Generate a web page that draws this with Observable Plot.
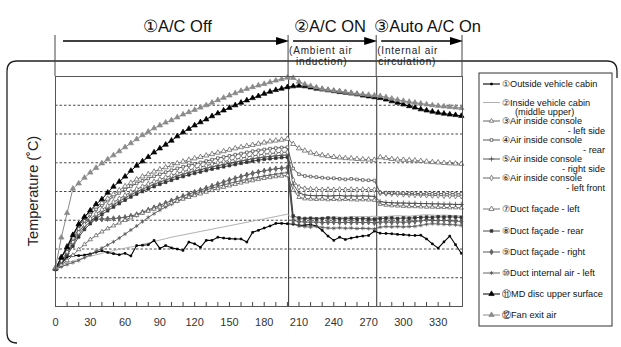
<!DOCTYPE html>
<html><head><meta charset="utf-8">
<script src="https://cdn.jsdelivr.net/npm/d3@7"></script>
<script src="https://cdn.jsdelivr.net/npm/@observablehq/plot@0.6"></script>
<style>
html,body{margin:0;padding:0;background:#fff;}
#chart{position:relative;width:621px;height:347px;overflow:hidden;}
</style></head><body><div id="chart"></div>
<script>
const minutes = [0,5,10,15,20,25,30,35,40,45,50,55,60,65,70,75,80,85,90,95,100,105,110,115,120,125,130,135,140,145,150,155,160,165,170,175,180,185,190,195,200,205,210,215,220,225,230,235,240,245,250,255,260,265,270,275,280,285,290,295,300,305,310,315,320,325,330,335,340,345,350];

const outsideCabin = [23.7,25.0,27.2,27.8,27.7,27.9,28.3,28.9,29.4,28.8, 28.4,28.0,28.5,27.6,31.2,31.3,31.5,33.0,30.2,31.2, 30.4,30.0,29.5,32.4,31.8,30.6,33.0,33.0,34.1,33.8, 33.6,33.5,33.5,32.4,35.8,36.5,37.3,38.0,38.9,38.9, 38.8,38.6,38.2,38.3,38.5,38.0,36.5,34.5,33.0,34.1, 33.3,33.8,34.2,34.5,34.7,36.2,35.5,35.4,35.3,35.1, 35.0,34.8,34.7,34.8,33.5,31.8,30.3,32.5,34.5,31.5, 28.5];
const insideCabin = [23.0,24.2,25.2,25.8,26.4,27.0,27.5,28.0,28.5,29.0, 29.4,29.9,30.3,30.7,31.1,31.6,32.1,32.6,33.1,33.6, 34.1,34.5,34.9,35.3,35.7,36.1,36.5,36.9,37.3,37.7, 38.1,38.5,38.9,39.3,39.7,40.1,40.5,40.9,41.3,41.7, 42.1,40.5,40.2,40.6,41.0,40.9,40.8,41.0,41.2,41.1, 41.0,41.2,41.3,41.2,41.3,41.4,41.2,41.3,41.5,41.6, 41.5,41.4,41.6,41.8,41.9,41.8,41.7,41.8,41.7,41.6, 41.5];
const consoleLeft = [23.2,24.5,26.0,27.8,29.8,31.6,33.3,34.7,36.0,37.1, 38.1,39.1,40.0,40.9,41.7,42.5,43.2,43.9,44.6,45.3, 46.0,46.7,47.4,48.0,48.6,49.2,49.8,50.4,51.0,51.5, 52.0,52.5,53.0,53.4,53.8,54.2,54.6,54.9,55.2,55.4, 55.6,50.5,48.0,47.5,47.4,47.3,47.4,47.2,47.3,47.2, 47.3,47.2,47.1,47.2,47.1,47.0,45.6,45.3,45.1,45.0, 44.9,44.8,44.8,44.7,44.6,44.6,44.5,44.5,44.4,44.4, 44.3];
const consoleRear = [23.0,27.0,30.0,33.5,37.0,39.8,42.0,43.8,45.3,46.8, 48.2,49.5,50.7,51.8,52.8,53.7,54.5,55.3,56.0,56.7, 57.4,58.0,58.6,59.1,59.6,60.1,60.6,61.1,61.6,62.0, 62.4,62.8,63.2,63.6,64.0,64.3,64.6,64.9,65.1,65.3, 65.4,58.0,56.0,55.4,55.2,55.0,54.8,54.6,54.6,54.4, 54.2,54.4,54.2,54.0,53.9,53.8,49.6,49.5,49.4,49.5, 49.4,49.3,49.4,49.2,49.3,49.2,49.3,49.2,49.3,49.2, 49.2];
const consoleRight = [23.0,25.5,28.4,31.8,35.0,37.6,39.6,41.3,42.8,44.1, 45.4,46.6,47.8,48.9,49.9,50.8,51.7,52.5,53.3,54.0, 54.7,55.4,56.0,56.6,57.1,57.6,58.1,58.6,59.0,59.4, 59.8,60.2,60.6,61.0,61.4,61.7,62.0,62.2,62.4,62.6, 62.7,52.5,49.5,48.8,48.6,48.5,48.6,48.4,48.5,48.6, 48.4,48.5,48.4,48.5,48.4,48.3,46.5,46.2,46.1,46.0, 46.0,45.9,45.9,45.8,45.8,45.7,45.7,45.6,45.6,45.5, 45.5];
const consoleFront = [23.0,26.0,29.0,32.5,35.8,38.5,40.5,42.2,43.7,45.0, 46.3,47.5,48.7,49.8,50.8,51.7,52.6,53.4,54.2,54.9, 55.6,56.3,56.9,57.5,58.0,58.5,59.0,59.5,60.0,60.4, 60.8,61.2,61.6,62.0,62.4,62.7,63.0,63.2,63.4,63.6, 63.7,54.0,51.5,51.0,50.8,50.7,50.6,50.7,50.6,50.7, 50.6,50.7,50.6,50.7,50.6,50.6,49.5,49.3,49.2,49.1, 49.0,48.9,48.8,48.8,48.7,48.6,48.6,48.5,48.5,48.4, 48.4];
const ductLeft = [23.2,27.2,30.6,34.0,38.5,41.0,43.0,44.8,46.0,47.5, 49.0,50.4,51.8,53.0,54.2,55.2,56.0,56.9,57.7,58.4, 59.1,59.8,60.4,61.0,61.5,62.0,62.5,63.0,63.5,64.0, 64.5,65.0,65.4,65.8,66.2,66.6,67.0,67.4,67.7,68.0, 68.3,66.5,65.0,64.2,63.5,63.0,62.6,62.3,62.0,61.8, 61.6,61.5,61.3,61.2,61.1,61.0,61.9,61.6,61.3,61.1, 61.0,60.9,60.8,60.6,60.4,60.2,60.1,59.9,59.8,59.7, 59.6];
const ductRear = [23.0,25.0,27.8,31.0,34.2,36.8,38.8,40.5,42.0,43.3, 44.6,45.8,47.0,48.1,49.1,50.0,50.9,51.7,52.5,53.2, 53.9,54.6,55.2,55.8,56.3,56.8,57.3,57.8,58.2,58.6, 59.0,59.4,59.8,60.2,60.6,60.9,61.2,61.4,61.6,61.8, 61.9,41.5,40.8,40.6,40.7,40.5,40.6,40.8,40.7,40.5, 40.6,40.7,40.5,40.6,40.5,40.4,40.6,40.7,40.8,40.6, 40.8,40.7,40.9,41.0,41.1,41.0,41.2,41.1,41.2,41.1, 41.0];
const ductRight = [23.2,27.0,31.0,35.0,38.5,40.0,40.3,40.4,40.4,40.5, 40.6,40.8,41.0,41.5,42.0,42.8,43.6,44.4,45.2,46.0, 46.8,47.6,48.4,49.1,49.8,50.5,51.2,51.9,52.6,53.3, 54.0,54.6,55.2,55.8,56.3,56.8,57.2,57.6,57.9,58.1, 58.3,40.0,39.5,39.4,39.3,39.4,39.2,39.3,39.3,39.2, 39.3,39.2,39.3,39.2,39.3,39.1,39.3,39.4,39.3,39.4, 39.3,39.4,39.6,39.8,40.2,40.0,39.9,40.0,39.8,39.7, 39.6];
const ductInternal = [23.0,23.8,24.6,25.3,26.0,27.0,28.0,29.2,30.3,31.4, 32.5,33.8,35.2,36.6,38.0,39.5,41.0,42.3,43.5,44.6, 45.6,46.6,47.5,48.3,49.1,49.8,50.5,51.2,51.7,52.3, 52.8,53.3,53.8,54.2,54.6,55.0,55.4,55.7,56.0,56.3, 56.6,39.0,38.0,37.8,37.6,37.9,37.5,37.3,37.2,37.4, 37.2,37.3,37.1,37.2,37.1,37.0,37.6,37.8,37.7,37.8, 37.7,37.8,37.9,38.2,38.6,38.8,38.7,38.6,38.5,38.4, 38.2];
const mdDisc = [23.2,27.0,30.6,34.8,38.6,41.2,43.4,45.6,47.3,49.6, 51.7,53.4,55.2,57.2,59.0,60.5,62.0,63.6,65.0,66.3, 67.7,69.2,70.6,71.8,73.0,74.1,75.1,76.2,77.2,78.2, 79.1,80.0,80.9,81.7,82.5,83.2,84.0,84.7,85.3,85.8, 86.3,86.6,86.8,86.6,86.2,85.8,85.5,85.2,84.9,84.6, 84.4,84.1,83.8,83.4,83.1,82.8,82.5,82.0,81.4,80.9, 80.3,79.7,79.2,78.6,78.2,77.8,77.4,77.1,76.8,76.6, 76.3];
const fanExit = [23.5,34.0,42.5,51.0,52.8,54.8,56.6,58.2,59.8,61.2, 62.6,64.0,65.4,66.8,68.2,69.6,70.8,72.0,73.0,74.0, 74.8,75.8,76.8,77.6,78.4,79.2,80.0,80.9,81.8,82.6, 83.4,84.2,85.0,85.7,86.3,86.9,87.4,88.0,88.6,89.1, 89.6,89.5,88.2,87.3,86.7,86.2,85.7,85.4,85.1,84.9, 84.6,84.3,84.0,83.8,83.6,83.4,83.2,82.8,82.3,81.9, 81.5,81.2,80.9,80.6,80.3,80.0,79.8,79.6,79.4,79.2, 79.0];

const xTickLabels = [0,30,60,90,120,150,180,210,240,270,300,330];
const minorTicks = [10,20,30,40,50,60,70,80,90,100,110,120,130,140,150,160,170,180,190,200,210,220,230,240,250,260,270,280,290,300,310,320,330,340];
const gridLevels = [20,30,40,50,60,70,80];
const phaseBounds = [0,201,277,351];
const phaseTitles = ["①A/C Off","②A/C ON","③Auto A/C On"];
const phaseNotes = [[], ["(Ambient air","induction)"], ["(Internal air","circulation)"]];
const legendMain = ["①Outside vehicle cabin","②Inside vehicle cabin","③Air inside console","④Air inside console","⑤Air inside console","⑥Air inside console","⑦Duct façade - left","⑧Duct façade - rear","⑨Duct façade - right","⑩Duct internal air - left","⑪MD disc upper surface","⑫Fan exit air"];
const legendSub = ["","(middle upper)","- left side","- rear","- right side","- left front","","","","","",""];
const yTitle = "Temperature (˚C)";

// styles
const seriesValues = [outsideCabin, insideCabin, consoleLeft, consoleRear, consoleRight, consoleFront, ductLeft, ductRear, ductRight, ductInternal, mdDisc, fanExit];
const styles = [
  {stroke:"#000", sw:1.1, symbol:"square", r:1.0, fill:"#000", ds:"#000"},
  {stroke:"#b0b0b0", sw:1, symbol:null},
  {stroke:"#555", sw:0.9, symbol:"triangle", r:1.6, fill:"#fff", ds:"#555"},
  {stroke:"#444", sw:0.9, symbol:"square", r:1.5, fill:"#fff", ds:"#444"},
  {stroke:"#444", sw:0.9, symbol:"plus", r:1.8, fill:"none", ds:"#444"},
  {stroke:"#555", sw:0.9, symbol:"diamond", r:1.7, fill:"#fff", ds:"#555"},
  {stroke:"#666", sw:0.9, symbol:"triangle", r:1.9, fill:"#fff", ds:"#555"},
  {stroke:"#333", sw:0.9, symbol:"square", r:1.5, fill:"#333", ds:"#333"},
  {stroke:"#444", sw:0.9, symbol:"diamond", r:1.7, fill:"#666", ds:"#555"},
  {stroke:"#555", sw:0.9, symbol:"asterisk", r:1.9, fill:"none", ds:"#555"},
  {stroke:"#000", sw:1.0, symbol:"triangle", r:2.0, fill:"#000", ds:"#000"},
  {stroke:"#8a8a8a", sw:1.0, symbol:"triangle", r:2.0, fill:"#8a8a8a", ds:"#8a8a8a"}
];
const drawOrder = [1,0,9,8,7,2,4,5,3,6,10,11];

const seriesMarks = drawOrder.flatMap(k => {
  const st = styles[k];
  const data = minutes.map((m,i) => ({m, v: seriesValues[k][i]}));
  const ms = [Plot.line(data, {x:"m", y:"v", stroke:st.stroke, strokeWidth:st.sw})];
  if (st.symbol) ms.push(Plot.dot(data, {x:"m", y:"v", symbol:st.symbol, r:st.r, fill:st.fill, stroke:st.ds, strokeWidth:0.7}));
  return ms;
});

const plot = Plot.plot({
  width:621, height:347,
  marginLeft:55, marginRight:159, marginTop:76, marginBottom:41,
  x:{domain:[0,351], label:null},
  y:{domain:[10,90], axis:null},
  style:{fontFamily:"'Liberation Sans', Arial, sans-serif", background:"#fff", overflow:"visible"},
  marks:[
    Plot.ruleY(gridLevels, {stroke:"#333", strokeWidth:0.9, strokeDasharray:"2.5,2"}),
    Plot.ruleX(minorTicks, {y1:10, y2:11.4, stroke:"#333", strokeWidth:0.9}),
    Plot.ruleX([phaseBounds[1], phaseBounds[2]], {stroke:"#444", strokeWidth:1.1}),
    ...seriesMarks,
    Plot.frame({stroke:"#555", strokeWidth:1}),
    Plot.axisX(xTickLabels, {tickSize:0, tickPadding:12, fontSize:11, fill:"#333", label:null})
  ]
});
document.getElementById("chart").appendChild(plot);

const svg = d3.select(plot);
const xs = plot.scale("x");
const X = v => xs.apply(v);

// rounded outer border
svg.insert("path", ":first-child")
  .attr("d", "M17,343 Q7,343 7,333 L7,71 Q7,61 17,61 L607,61 Q617,61 617,71 L617,78")
  .attr("fill","none").attr("stroke","#222").attr("stroke-width",1.3);

// header verticals
const hdr = svg.append("g").attr("text-anchor","start");
phaseBounds.forEach(b => {
  hdr.append("line").attr("x1",X(b)).attr("x2",X(b)).attr("y1",35).attr("y2",76)
    .attr("stroke","#444").attr("stroke-width",1);
});
// arrows
phaseBounds.slice(0,3).forEach((b,i) => {
  const x1 = X(b) + (i===0 ? 8 : 5), x2 = X(phaseBounds[i+1]) + 1, y = 41;
  hdr.append("line").attr("x1",x1).attr("x2",x2-10).attr("y1",y).attr("y2",y)
    .attr("stroke","#000").attr("stroke-width",1.7);
  hdr.append("path").attr("d",`M${x2},${y} L${x2-13},${y-4} L${x2-13},${y+4} Z`).attr("fill","#000");
});
const titleX = [X(0)+88, X(201)+6, X(277)-2];
phaseTitles.forEach((t,i) => {
  hdr.append("text").attr("x",titleX[i]).attr("y",32).attr("font-size",16.5)
    .attr("fill","#111").text(t);
});
phaseNotes.forEach((lines,i) => {
  lines.forEach((t,j) => {
    hdr.append("text").attr("x", X(phaseBounds[i]) + (j===0?1:(i===1?8:2))).attr("y", 53.5 + j*11)
      .attr("font-size",10).attr("letter-spacing",0.8).attr("fill","#222").text(t);
  });
});

// y title
svg.append("text").attr("transform","translate(38,191) rotate(-90)")
  .attr("text-anchor","middle").attr("font-size",14.5).attr("fill","#222").text(yTitle);

// legend
const lg = svg.append("g").attr("font-size",9.2).attr("fill","#111").attr("text-anchor","start");
lg.append("rect").attr("x",479).attr("y",73).attr("width",133).attr("height",253)
  .attr("fill","#fff").attr("stroke","#333").attr("stroke-width",1);
const rowY = [84,102.5,121,140,159,178,209,231,252,273,294,315];
const symMap = {triangle:d3.symbolTriangle, square:d3.symbolSquare, plus:d3.symbolPlus, diamond:d3.symbolDiamond, asterisk:d3.symbolAsterisk};
legendMain.forEach((t,i) => {
  const st = styles[i], y = rowY[i];
  lg.append("line").attr("x1",483).attr("x2",500).attr("y1",y).attr("y2",y)
    .attr("stroke",st.stroke).attr("stroke-width",st.sw);
  if (st.symbol) {
    lg.append("path").attr("transform",`translate(491.5,${y})`)
      .attr("d", d3.symbol(symMap[st.symbol], Math.PI*st.r*st.r)())
      .attr("fill",st.fill).attr("stroke",st.ds).attr("stroke-width",0.7);
  }
  lg.append("text").attr("x",502).attr("y",y).attr("dy","0.35em").text(t);
  if (legendSub[i]) {
    const sub = lg.append("text").attr("y",y+9.5).attr("dy","0.35em").text(legendSub[i]);
    if (i===1) sub.attr("x",515); else sub.attr("x",605).attr("text-anchor","end");
  }
});
</script></body></html>
